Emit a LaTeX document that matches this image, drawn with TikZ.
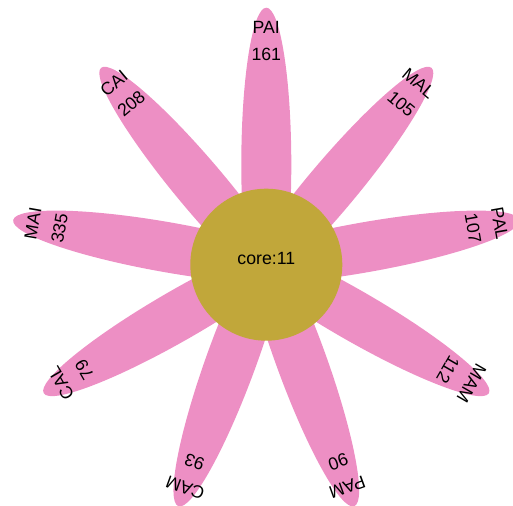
\documentclass[tikz,border=0pt]{standalone}
\usepackage{fontspec}
\setmainfont{Liberation Sans}
\usetikzlibrary{shapes.geometric}
\definecolor{petalpink}{RGB}{237,143,196}
\definecolor{coregold}{RGB}{193,167,58}
\tikzset{
  petal/.style={ellipse, fill=petalpink, draw=none, inner sep=0pt,
                minimum width=314pt, minimum height=50pt},
  core/.style={circle, fill=coregold, draw=none, inner sep=0pt, minimum size=152pt},
  lbl/.style={inner sep=0pt, font=\fontsize{17.7}{20}\selectfont, text=black}
}
\begin{document}
\begin{tikzpicture}[x=1pt,y=1pt]
\useasboundingbox (-266.3,-240.3) rectangle (246.7,264.7);
\clip (-266.3,-240.3) rectangle (246.7,264.7);
\foreach \nm/\num/\k in {PAI/161/0, MAL/105/1, PAL/107/2, MAM/112/3, PAM/90/4, CAM/93/5, CAL/79/6, MAI/335/7, CAI/208/8}{
  \pgfmathsetmacro{\ang}{90-40*\k}
  \pgfmathsetmacro{\rot}{\ang-90}
  \node[petal, rotate=\ang] (petal\k) at (\ang:100) {};
  \node[lbl, rotate=\rot] (num\k) at (\ang:210) {\num};
  \node[lbl, rotate=\rot] (name\k) at (\ang:237) {\nm};
}
\node[core] (core) at (0,0) {};
\node[lbl, anchor=base] (coretext) at (0,0) {core:11};
\end{tikzpicture}
\end{document}
